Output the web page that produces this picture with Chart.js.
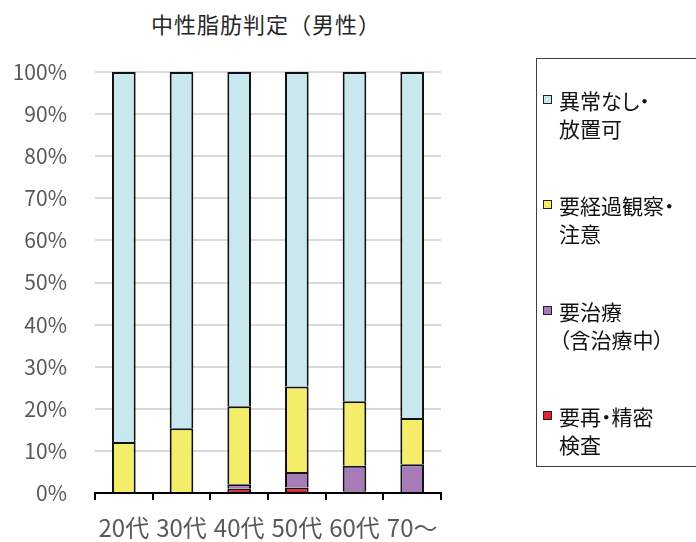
<!DOCTYPE html>
<html lang="ja">
<head>
  <meta charset="UTF-8">
  <title>中性脂肪判定（男性）</title>
  <script src="https://cdn.jsdelivr.net/npm/chart.js"></script>
  <style>
    body { margin: 0; width: 696px; height: 542px; overflow: hidden; background: #fff; position: relative; font-family: "Noto Sans CJK JP", "Noto Sans", sans-serif; }
    #chartWrap { position: absolute; left: 0; top: 0; }
    .title { position: absolute; left: 116px; width: 300px; text-align: center; top: 7px; font-size: 22px; letter-spacing: 1px; color: #262626; white-space: nowrap; }
    .legendBox { position: absolute; left: 536px; top: 58px; width: 200px; height: 407px; border: 1.5px solid #404040; }
    .item { position: absolute; left: 22px; font-size: 21px; line-height: 28px; color: #111; white-space: nowrap; font-feature-settings: "palt"; }
    .mark { position: absolute; left: -16px; top: 9px; width: 7px; height: 7px; border: 1.5px solid #222; }
  </style>
</head>
<body>
  <div class="title">中性脂肪判定（男性）</div>
  <div id="chartWrap"><canvas id="chartTG" width="696" height="542"></canvas></div>
  <div class="legendBox" id="legendBox"></div>

  <script>
    // 年代別の判定割合（%）
    const kategori = ['20代', '30代', '40代', '50代', '60代', '70〜'];
    const saiSeimitsu = [0, 0, 1.0, 1.3, 0.4, 0];
    const chiryou = [0, 0, 1.1, 3.7, 6.1, 6.8];
    const keikaKansatsu = [12.1, 15.4, 18.5, 20.3, 15.3, 11.0];
    const ijouNashi = [87.9, 84.6, 79.4, 74.7, 78.2, 82.2];
    const yTicks = [0, 10, 20, 30, 40, 50, 60, 70, 80, 90, 100];

    const warna = {
      ijouNashi: '#c9e7ef',
      keika: '#f3ed6a',
      chiryou: '#a77bb8',
      sai: '#e4232e'
    };

    // 凡例は上から 異常なし → 要再・精密
    const legendItems = [
      { lines: ['異常なし・', '放置可'], color: warna.ijouNashi, top: 27 },
      { lines: ['要経過観察・', '注意'], color: warna.keika, top: 132 },
      { lines: ['要治療', '（含治療中）'], color: warna.chiryou, top: 238 },
      { lines: ['要再・精密', '検査'], color: warna.sai, top: 343 }
    ];
    const box = document.getElementById('legendBox');
    legendItems.forEach(it => {
      const d = document.createElement('div');
      d.className = 'item';
      d.style.top = it.top + 'px';
      d.innerHTML = `<span class="mark" style="background:${it.color}"></span>${it.lines.join('<br>')}`;
      box.appendChild(d);
    });

    const ds = (label, data, color) => ({
      label, data,
      backgroundColor: color,
      borderColor: '#111',
      borderWidth: 2,
      borderSkipped: 'start',
      barPercentage: 0.41,
      categoryPercentage: 1
    });

    const ctx = document.getElementById('chartTG').getContext('2d');
    new Chart(ctx, {
      type: 'bar',
      data: {
        labels: kategori,
        datasets: [
          ds('要再・精密検査', saiSeimitsu, warna.sai),
          ds('要治療（含治療中）', chiryou, warna.chiryou),
          ds('要経過観察・注意', keikaKansatsu, warna.keika),
          ds('異常なし・放置可', ijouNashi, warna.ijouNashi)
        ]
      },
      options: {
        responsive: false,
        devicePixelRatio: 1,
        animation: false,
        layout: { padding: { left: 10, top: 72, right: 255, bottom: 0 } },
        plugins: { legend: { display: false }, tooltip: { enabled: false } },
        scales: {
          x: {
            stacked: true,
            afterFit: s => { s.height = 49; },
            border: { display: true, color: '#000', width: 2 },
            grid: { display: true, drawOnChartArea: false, drawTicks: true, tickLength: 7, color: '#000', lineWidth: 2, offset: true },
            ticks: { color: '#595959', padding: 13, maxRotation: 0, font: { family: '"Noto Sans CJK JP"', size: 24 } }
          },
          y: {
            stacked: true,
            min: 0, max: 100,
            afterFit: s => { s.width = 85; },
            afterBuildTicks: s => { s.ticks = yTicks.map(v => ({ value: v })); },
            border: { display: false },
            grid: { color: '#d9d9d9', lineWidth: 2, drawTicks: false },
            ticks: { color: '#595959', padding: 28, callback: v => v + '%', font: { family: '"Noto Sans CJK JP"', size: 21 } }
          }
        }
      }
    });
  </script>
</body>
</html>
